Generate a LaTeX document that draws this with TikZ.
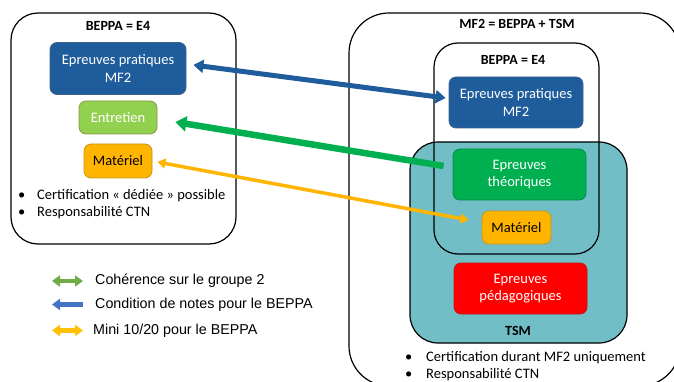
\documentclass[tikz,border=0pt]{standalone}
\usepackage{fontspec}
\setmainfont{Carlito}
\newfontfamily\arialf{Liberation Sans}
\usetikzlibrary{arrows.meta,calc}
\definecolor{dblue}{RGB}{31,92,156}
\definecolor{dblueB}{RGB}{60,100,140}
\definecolor{lgreen}{RGB}{146,208,80}
\definecolor{lgreenB}{RGB}{140,150,70}
\definecolor{orng}{RGB}{255,180,0}
\definecolor{orngB}{RGB}{200,150,20}
\definecolor{mgreen}{RGB}{0,176,80}
\definecolor{mgreenB}{RGB}{0,140,70}
\definecolor{rred}{RGB}{255,0,0}
\definecolor{rredB}{RGB}{200,20,20}
\definecolor{teal}{RGB}{113,190,198}
\definecolor{legG}{RGB}{112,173,71}
\definecolor{legB}{RGB}{68,114,196}
\definecolor{legO}{RGB}{255,192,0}
\tikzset{
  container/.style={draw=black, line width=1.2pt, inner sep=0pt},
  box/.style={rounded corners=7pt, line width=0.8pt, inner sep=0pt, align=center, text=white, font=\fontsize{14.5}{17.5}\selectfont},
  ttl/.style={font=\bfseries\fontsize{14}{16}\selectfont, inner sep=0pt},
  bul/.style={anchor=west, inner sep=0pt, font=\fontsize{14.5}{17}\selectfont},
  leg/.style={anchor=west, inner sep=0pt, font=\arialf\fontsize{14.3}{16}\selectfont},
  legarrow/.style={line width=4.5pt},
}
\begin{document}
\begin{tikzpicture}[x=1pt,y=-1pt]
\useasboundingbox (0,0) rectangle (674,382);
\clip (0,0) rectangle (674,382);
% containers
\node[container, rounded corners=27pt, minimum width=225pt, minimum height=231pt] (leftbox) at (123.5,128.5) {};
\node[container, rounded corners=40pt, minimum width=331pt, minimum height=373pt] (mfbox) at (514.5,199.5) {};
\node[container, fill=teal, rounded corners=28pt, minimum width=217pt, minimum height=201pt] (tsmbox) at (518.5,242.5) {};
\node[container, rounded corners=24pt, minimum width=165pt, minimum height=211pt] (beppaR) at (516.5,148.5) {};
% titles
\node[ttl] (t1) at (118,26) {BEPPA = E4};
\node[ttl] (t2) at (517,24) {MF2 = BEPPA + TSM};
\node[ttl] (t3) at (513,60) {BEPPA = E4};
\node[ttl] (t4) at (518,331) {TSM};
% boxes left
\node[box, fill=dblue, draw=dblueB, minimum width=136pt, minimum height=52pt] (bpL) at (118,68.5) {Epreuves pratiques\\MF2};
\node[box, fill=lgreen, draw=lgreenB, minimum width=78pt, minimum height=33pt] (entL) at (118,117.5) {Entretien};
\node[box, fill=orng, draw=orngB, text=black, minimum width=68pt, minimum height=34pt] (matL) at (118,161) {Matériel};
% boxes right
\node[box, fill=dblue, draw=dblueB, minimum width=134pt, minimum height=51pt] (bpR) at (516,102.5) {Epreuves pratiques\\MF2};
\node[box, fill=mgreen, draw=mgreenB, minimum width=133pt, minimum height=51pt] (thR) at (519.5,174.5) {Epreuves\\théoriques};
\node[box, fill=orng, draw=orngB, text=black, minimum width=69pt, minimum height=33pt] (matR) at (516.5,227.5) {Matériel};
\node[box, fill=rred, draw=rredB, minimum width=133pt, minimum height=51pt] (pedR) at (520.5,288.5) {Epreuves\\pédagogiques};
% bullets
\node[bul] (b1) at (18,196) {\makebox[19pt][l]{•}Certification « dédiée » possible};
\node[bul] (b2) at (18,213) {\makebox[19pt][l]{•}Responsabilité CTN};
\node[bul] (b3) at (405,358) {\makebox[21pt][l]{•}Certification durant MF2 uniquement};
\node[bul] (b4) at (405,375) {\makebox[21pt][l]{•}Responsabilité CTN};
% arrows
\coordinate (ba) at ($(bpL.east)+(7,-3.5)$);
\coordinate (bb) at ($(bpR.west)+(-3,-4.5)$);
\draw[dblue, line width=5pt, {Triangle[width=13pt,length=10pt]}-{Triangle[width=13pt,length=10pt]}] (ba) -- (bb);
\coordinate (ga) at ($(thR.west)+(-9,-8.5)$);
\coordinate (gb) at ($(entL.east)+(18,4.5)$);
\draw[mgreen, line width=6.5pt, -{Triangle[width=15pt,length=11pt]}] (ga) -- (gb);
\coordinate (oa) at ($(matL.east)+(5,1)$);
\coordinate (ob) at ($(matR.west)+(-13,-7.5)$);
\draw[orng, line width=3.5pt, {Triangle[width=10pt,length=8pt]}-{Triangle[width=10pt,length=8pt]}] (oa) -- (ob);
% legend
\coordinate (l1a) at (52,281); \coordinate (l1b) at (83,281);
\coordinate (l2a) at (52,304.5); \coordinate (l2b) at (83,304.5);
\coordinate (l3a) at (52,330.5); \coordinate (l3b) at (83,330.5);
\draw[legG, legarrow, {Triangle[width=11pt,length=8pt]}-{Triangle[width=11pt,length=8pt]}] (l1a) -- (l1b);
\draw[legB, legarrow, {Triangle[width=11pt,length=8pt]}-] (l2a) -- (l2b);
\draw[legO, legarrow, {Triangle[width=11pt,length=8pt]}-{Triangle[width=11pt,length=8pt]}] (l3a) -- (l3b);
\node[leg] (lt1) at (95,281) {Cohérence sur le groupe 2};
\node[leg] (lt2) at (95,305) {Condition de notes pour le BEPPA};
\node[leg] (lt3) at (93,330.5) {Mini 10/20 pour le BEPPA};
\end{tikzpicture}
\end{document}
